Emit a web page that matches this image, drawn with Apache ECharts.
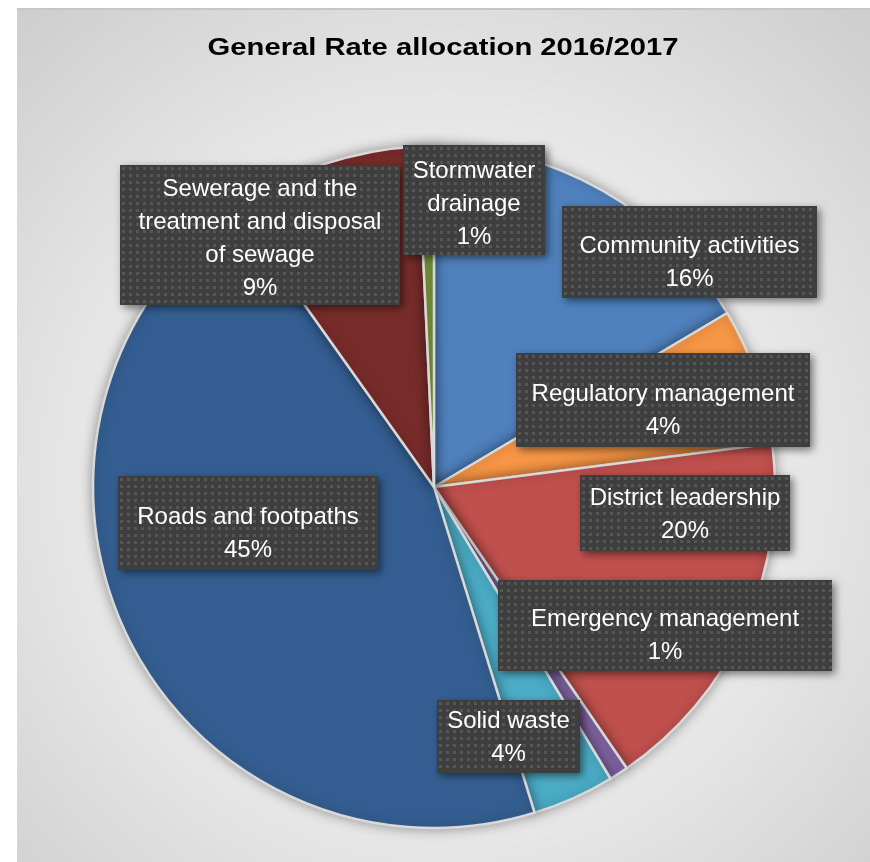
<!DOCTYPE html>
<html>
<head>
<meta charset="utf-8">
<script src="https://cdn.jsdelivr.net/npm/echarts@6/dist/echarts.min.js"></script>
<style>
html,body{margin:0;padding:0;background:#fff;}
#c{width:870px;height:862px;}
</style>
</head>
<body>
<div id="c"></div>
<script>
// Data
var categories = ["Community activities","Regulatory management","District leadership","Emergency management","Solid waste","Roads and footpaths","Sewerage and the\ntreatment and disposal\nof sewage","Stormwater\ndrainage"];
var sliceValues = [16.5, 6.5, 17.5, 0.9, 3.9, 45.0, 9.1, 0.75];
var labelPercents = ["16%","4%","20%","1%","4%","45%","9%","1%"];
var colors = ["#4f81bd","#f79646","#c0504d","#8064a2","#4bacc6","#345e91","#772c2a","#77933c"];

// label box layout: centre, outer size, text offset inside box
var labelPos = [[689.5,252],[663,400],[685,513],[665,625.5],[508.5,736.5],[248,523],[260,235],[474,200]];
var labelBox = [[255,92],[294,94],[210,76],[334,91],[143,73],[260,94],[280,140],[142,110]];
var textShift = [11,11,2,10,1.5,11,4,4];
var LINE_H = 33;

function patternCanvas(w, h){
  var cv = document.createElement('canvas');
  cv.width = w; cv.height = h;
  var ctx = cv.getContext('2d');
  ctx.fillStyle = '#3e3e3e';
  ctx.fillRect(0,0,w,h);
  ctx.fillStyle = '#555555';
  var s = 7;
  for (var y = 2; y < h - 1; y += s){
    for (var x = 2; x < w - 1; x += s){
      ctx.fillRect(x, y, 3, 3);
    }
  }
  return cv;
}

var chart = echarts.init(document.getElementById('c'), null, {renderer:'canvas'});
var baseData = categories.map(function(n,i){
  return {name:n, value:sliceValues[i], itemStyle:{color:colors[i]}};
});
var labelData = categories.map(function(n,i){
  var lines = n.split('\n').length + 1;
  var w = labelBox[i][0], h = labelBox[i][1];
  var padV = (h - lines * LINE_H) / 2;
  var d = textShift[i];
  return {
    name:n, value:sliceValues[i], itemStyle:{color:'rgba(0,0,0,0)'},
    label:{width:w, height:lines*LINE_H, padding:[padV + d,0,padV - d,0], backgroundColor:{image:patternCanvas(w,h)}}
  };
});
var shadows = labelPos.map(function(p,i){
  var w = labelBox[i][0], h = labelBox[i][1];
  return {type:'rect', z:3, silent:true, shape:{x:p[0]-w/2, y:p[1]-h/2, width:w, height:h},
    style:{fill:'#3e3e3e', shadowBlur:8, shadowColor:'rgba(0,0,0,0.5)', shadowOffsetX:3, shadowOffsetY:3}};
});

chart.setOption({
  animation:false,
  backgroundColor:'transparent',
  graphic:[
    {type:'rect', z:-10, shape:{x:17,y:8,width:853,height:854},
     style:{fill:{type:'radial',x:0.5,y:0.55,r:0.72,colorStops:[{offset:0,color:'#f5f5f5'},{offset:0.6,color:'#e6e6e6'},{offset:1,color:'#cfcfcf'}]}}},
    {type:'rect', z:-9, shape:{x:17,y:8,width:853,height:2}, style:{fill:'#c6c6c6'}},
    {type:'text', z:10, x:443, y:49, scaleX:1.27, scaleY:1,
     style:{text:'General Rate allocation 2016/2017', font:'bold 23px "Liberation Sans", Arial, sans-serif', fill:'#000', textAlign:'center', textVerticalAlign:'middle'}}
  ].concat(shadows),
  series:[{
    type:'pie',
    z:2,
    center:[434,487],
    radius:[0,341],
    startAngle:90,
    clockwise:true,
    itemStyle:{borderColor:'#d9d9d9', borderWidth:2.5, shadowBlur:12, shadowColor:'rgba(0,0,0,0.35)'},
    label:{show:false},
    labelLine:{show:false},
    data:baseData
  },{
    type:'pie',
    z:4,
    silent:true,
    center:[434,487],
    radius:[0,341],
    startAngle:90,
    clockwise:true,
    avoidLabelOverlap:false,
    itemStyle:{borderWidth:0},
    label:{
      show:true,
      position:'inside',
      formatter:function(p){ return p.name + '\n' + labelPercents[p.dataIndex]; },
      color:'#ffffff',
      fontFamily:'"Liberation Sans", Arial, sans-serif',
      fontSize:24,
      lineHeight:LINE_H,
      align:'center'
    },
    labelLine:{show:false},
    labelLayout:function(p){
      var pos = labelPos[p.dataIndex];
      var h = labelBox[p.dataIndex][1];
      return {x:pos[0], y:pos[1] - h/2, align:'center', verticalAlign:'top'};
    },
    data:labelData
  }]
});
</script>
</body>
</html>
